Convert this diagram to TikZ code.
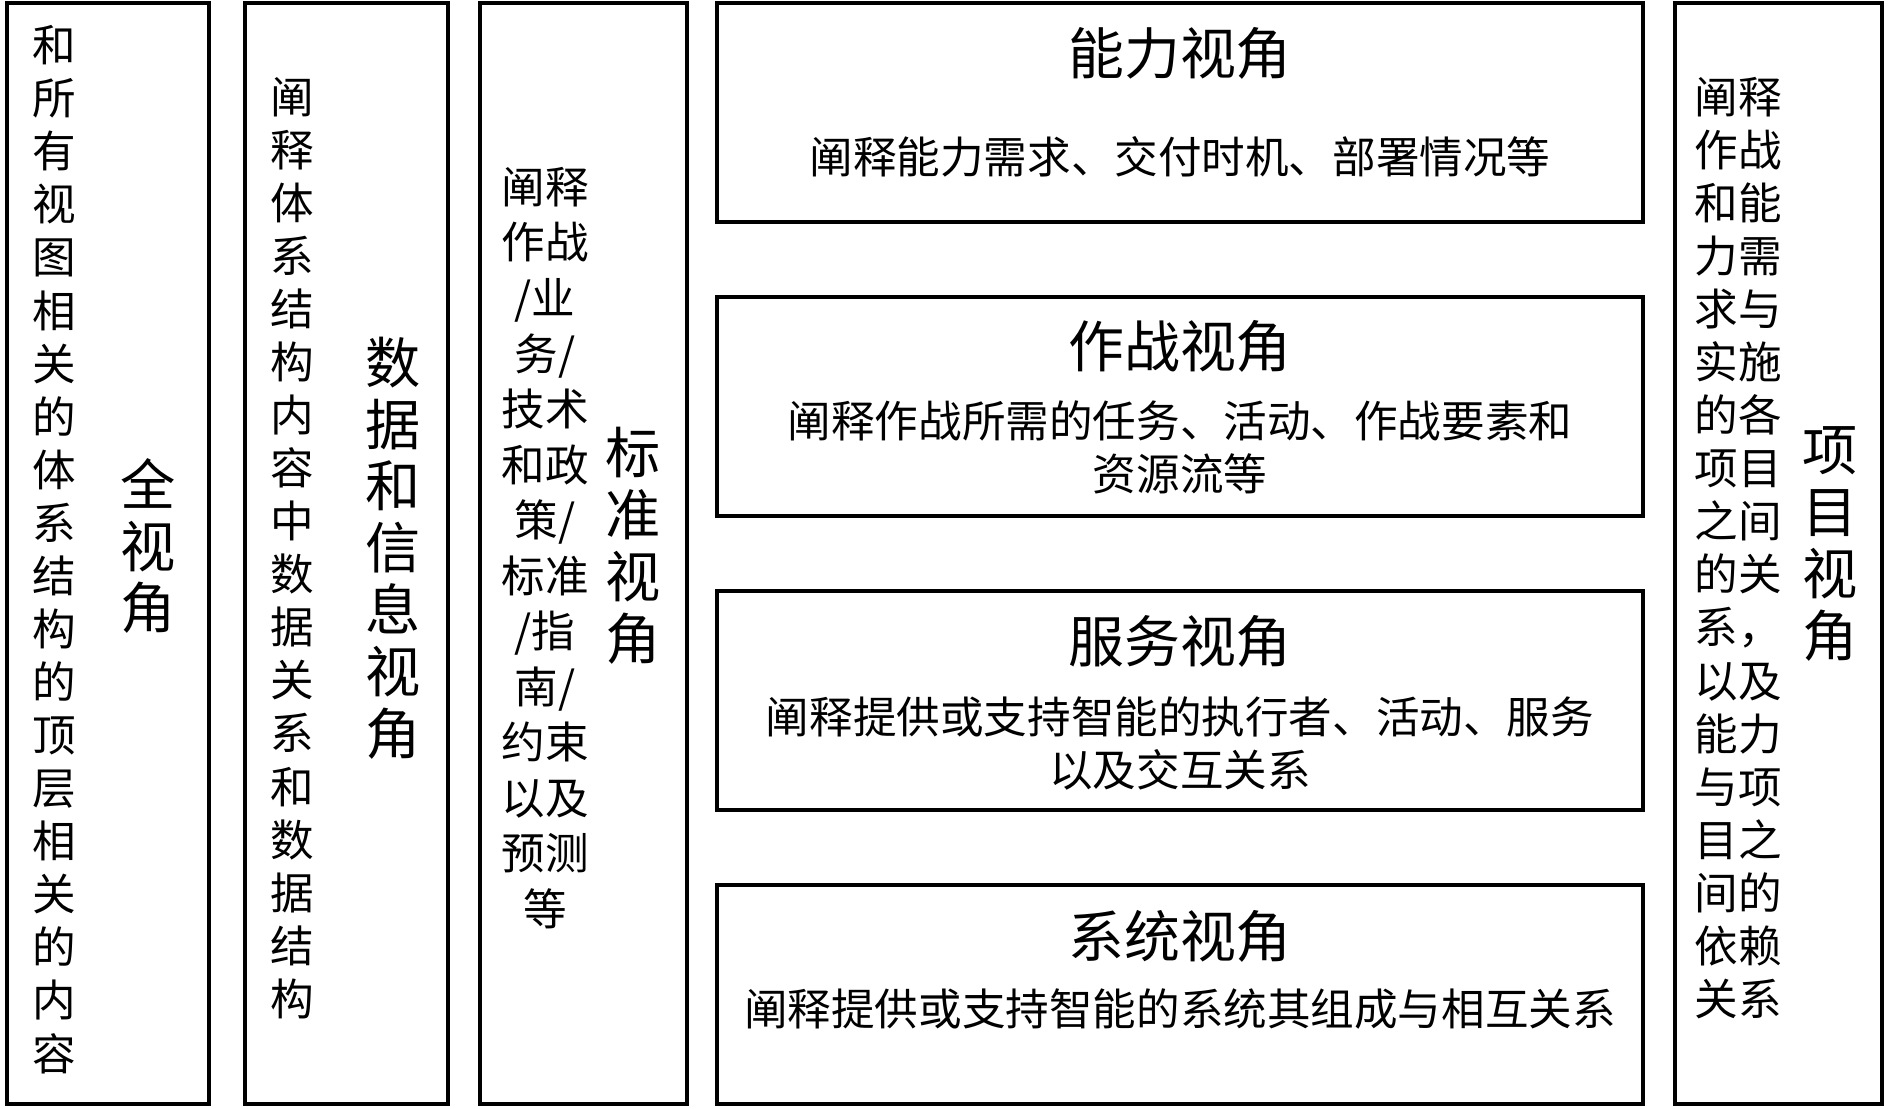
\documentclass[tikz,border=0pt]{standalone}
\usepackage{fontspec}
\setmainfont{Noto Sans CJK SC}
\usepackage{tikz}
\usetikzlibrary{positioning}
\tikzset{
	colbox/.style ={rectangle, draw=black, line width=1.1pt, inner sep=0pt, outer sep=0pt, minimum width=2.03cm, minimum height=11.01cm},
	viewbox/.style={rectangle, draw=black, line width=1.1pt, inner sep=0pt, outer sep=0pt, minimum width=9.26cm, minimum height=2.19cm},
	smalltxt/.style={font=\fontsize{12.4}{15.1}\selectfont, align=center, inner sep=0pt},
	biglbl/.style ={font=\fontsize{15.7}{17.6}\selectfont, align=center, inner sep=0pt},
	vtitle/.style ={font=\fontsize{15.9}{19}\selectfont, inner sep=0pt},
}
\begin{document}
\begin{tikzpicture}
	\useasboundingbox (0,0) rectangle (18.9,11.08);
	% left columns
	\node[colbox, minimum width=2.02cm] (all) at (1.08,5.545) {};
	\node[colbox, right=0.36cm of all] (data) {};
	\node[colbox, minimum width=2.07cm, right=0.32cm of data] (std) {};
	% the four main views
	\node[viewbox, right=0.30cm of std.north east, anchor=north west] (cap) {};
	\node[viewbox, below=0.75cm of cap] (ops) {};
	\node[viewbox, below=0.75cm of ops] (svc) {};
	\node[viewbox, below=0.75cm of svc] (sys) {};
	\node[colbox, minimum width=2.07cm, right=0.32cm of cap.north east, anchor=north west] (proj) {};

	\node[smalltxt] (alltxt) at ([xshift=-0.54cm, yshift=0.04cm]all.center) {和\\所\\有\\视\\图\\相\\关\\的\\体\\系\\结\\构\\的\\顶\\层\\相\\关\\的\\内\\容};
	\node[biglbl] (alllbl) at ([xshift=0.40cm, yshift=0.075cm]all.center) {全\\视\\角};
	\node[smalltxt] (datatxt) at ([xshift=-0.545cm, yshift=0.055cm]data.center) {阐\\释\\体\\系\\结\\构\\内\\容\\中\\数\\据\\关\\系\\和\\数\\据\\结\\构};
	\node[biglbl] (datalbl) at ([xshift=0.465cm, yshift=0.055cm]data.center) {数\\据\\和\\信\\息\\视\\角};
	\node[smalltxt, font=\fontsize{12.4}{15.8}\selectfont] (stdtxt) at ([xshift=-0.385cm, yshift=0.055cm]std.center) {阐释\\作战\\/业\\务/\\技术\\和政\\策/\\标准\\/指\\南/\\约束\\以及\\预测\\等};
	\node[biglbl] (stdlbl) at ([xshift=0.495cm, yshift=0.075cm]std.center) {标\\准\\视\\角};

	\node[vtitle] (captl) at ([yshift=-0.50cm]cap.north) {能力视角};
	\node[smalltxt] (capdsc) at ([yshift=-1.54cm]cap.north) {阐释能力需求、交付时机、部署情况等};
	\node[vtitle] (opstl) at ([yshift=-0.49cm]ops.north) {作战视角};
	\node[smalltxt] (opsdsc) at ([yshift=-1.505cm]ops.north) {阐释作战所需的任务、活动、作战要素和\\资源流等};
	\node[vtitle] (svctl) at ([yshift=-0.50cm]svc.north) {服务视角};
	\node[smalltxt] (svcdsc) at ([yshift=-1.525cm]svc.north) {阐释提供或支持智能的执行者、活动、服务\\以及交互关系};
	\node[vtitle] (systl) at ([yshift=-0.51cm]sys.north) {系统视角};
	\node[smalltxt] (sysdsc) at ([yshift=-1.24cm]sys.north) {阐释提供或支持智能的系统其组成与相互关系};

	\node[smalltxt] (projtxt) at ([xshift=-0.405cm, yshift=0.055cm]proj.center) {阐释\\作战\\和能\\力需\\求与\\实施\\的各\\项目\\之间\\的关\\系，\\以及\\能力\\与项\\目之\\间的\\依赖\\关系};
	\node[biglbl] (projlbl) at ([xshift=0.515cm, yshift=0.095cm]proj.center) {项\\目\\视\\角};
\end{tikzpicture}
\end{document}
